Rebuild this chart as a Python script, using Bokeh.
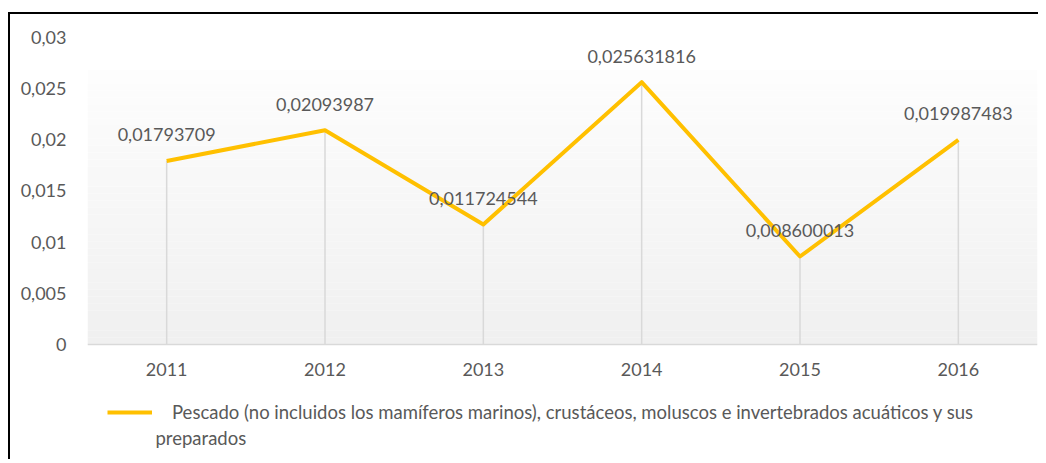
from bokeh.plotting import figure
from bokeh.models import (Range1d, FixedTicker, CustomJSTickFormatter, Legend, LegendItem,
                          Label, ColumnDataSource)
from bokeh.core.properties import value
from bokeh.embed import file_html
from bokeh.resources import INLINE

# ---- data ----
years = [2011, 2012, 2013, 2014, 2015, 2016]
values = [0.01793709, 0.02093987, 0.011724544, 0.025631816, 0.008600013, 0.019987483]
value_labels = ["0,01793709", "0,02093987", "0,011724544", "0,025631816", "0,008600013", "0,019987483"]
y_ticks = [0, 0.005, 0.01, 0.015, 0.02, 0.025, 0.03]
legend_line1 = "Pescado (no incluidos los mamíferos marinos), crustáceos, moluscos e invertebrados acuáticos y sus"
legend_line2 = "preparados"

FONT = "Lato"
TXT = "#595959"
GRID = "#d9d9d9"
LINE = "#FFC000"
NUM_SIZE = "18px"
LEG_SIZE = "18.5px"

# y range extends below 0 to leave room for the axis labels and legend inside the frame
p = figure(width=1030, height=447, output_backend="svg", toolbar_location=None,
           x_range=Range1d(2010.5, 2016.5), y_range=Range1d(-0.010847, 0.03),
           min_border_left=77, min_border_right=3, min_border_top=23, min_border_bottom=6)
p.margin = (12, 0, 0, 8)
p.styles = {"border-left": "2px solid #000000", "border-top": "2px solid #000000"}
p.outline_line_color = None
p.background_fill_color = "white"
p.border_fill_color = "white"
p.xgrid.visible = False
p.ygrid.visible = False

# gradient plot-area background (decoration)
grad_top = 0.0268
n = 40
bottoms, tops, cols = [], [], []
for i in range(n):
    b = grad_top * i / n
    t = grad_top * (i + 1) / n
    f = (i + 0.5) / n  # 0 bottom -> 1 top
    c = int(round(240 + (253 - 240) * f))
    bottoms.append(b)
    tops.append(t)
    cols.append("#%02x%02x%02x" % (c, c, c))
p.quad(left=p.x_range.start, right=p.x_range.end, bottom=bottoms, top=tops,
       fill_color=cols, line_color=None, level="underlay")

src = ColumnDataSource(dict(x=years, y=values, zero=[0] * len(years), lab=value_labels))

# drop lines
p.segment(x0="x", y0="zero", x1="x", y1="y", source=src, line_color=GRID, line_width=1.5)

# main line
r = p.line("x", "y", source=src, line_color=LINE, line_width=4, line_join="round")

# data labels
p.text("x", "y", text="lab", source=src, text_font=value(FONT), text_font_size=NUM_SIZE,
       text_color=TXT, text_align="center", text_baseline="middle", y_offset=-26)

# axes
p.xaxis.fixed_location = 0
p.xaxis.ticker = FixedTicker(ticks=years)
p.xaxis.axis_line_color = GRID
p.xaxis.axis_line_width = 1.5
p.xaxis.major_tick_line_color = None
p.xaxis.minor_tick_line_color = None
p.xaxis.major_label_text_font = FONT
p.xaxis.major_label_text_font_size = NUM_SIZE
p.xaxis.major_label_text_color = TXT
p.xaxis.major_label_standoff = 13

p.yaxis.ticker = FixedTicker(ticks=y_ticks)
p.yaxis.axis_line_color = None
p.yaxis.major_tick_line_color = None
p.yaxis.minor_tick_line_color = None
p.yaxis.major_label_text_font = FONT
p.yaxis.major_label_text_font_size = NUM_SIZE
p.yaxis.major_label_text_color = TXT
p.yaxis.major_label_standoff = 15
p.yaxis.formatter = CustomJSTickFormatter(code="""
    return tick.toFixed(3).replace(/0+$/, '').replace(/\\.$/, '').replace('.', ',');
""")

# legend: glyph + first line, second (wrapped) line as a label
legend = Legend(items=[LegendItem(label=legend_line1, renderers=[r])], location=(20, 32),
                padding=0, margin=0, spacing=0, border_line_color=None,
                background_fill_alpha=0, glyph_width=45, glyph_height=20, label_height=20,
                label_standoff=20, label_text_font=FONT, label_text_font_size=LEG_SIZE,
                label_text_color=TXT)
p.add_layout(legend, "center")
p.add_layout(Label(x=68, y=18, x_units="screen", y_units="screen", text=legend_line2,
                   text_font=FONT, text_font_size=LEG_SIZE, text_color=TXT,
                   text_baseline="middle"))

open("out.html", "w").write(file_html(p, INLINE))
